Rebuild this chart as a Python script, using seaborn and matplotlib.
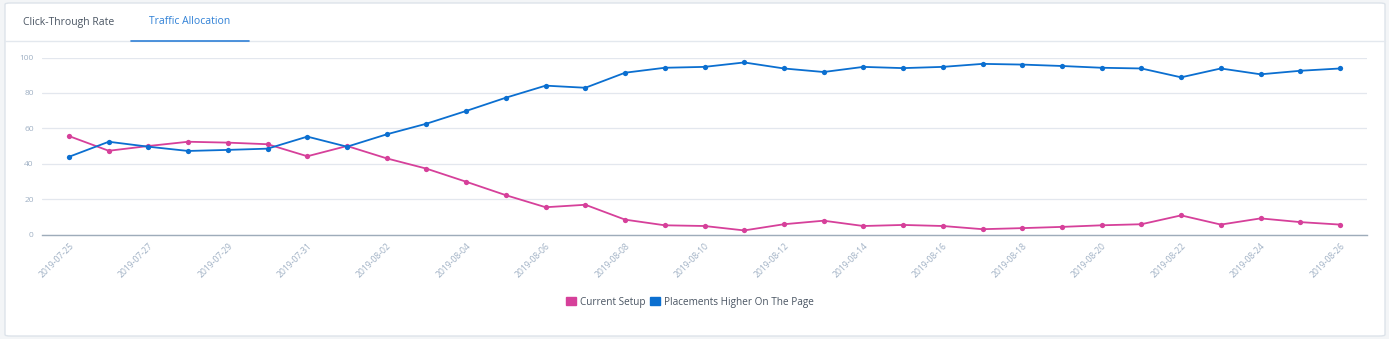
import matplotlib
matplotlib.use("Agg")
import matplotlib.pyplot as plt
import matplotlib.dates as mdates
from matplotlib.patches import FancyBboxPatch, Patch
from matplotlib.lines import Line2D
import seaborn as sns
import pandas as pd
import numpy as np

dates = pd.date_range("2019-07-25", "2019-08-26", freq="D")
current_setup = [55.6, 47.3, 50.0, 52.4, 51.9, 51.0, 44.2, 50.0, 43.0, 37.2,
                 29.8, 22.2, 15.4, 16.8, 8.4, 5.2, 4.8, 2.3, 5.8, 7.8,
                 4.8, 5.4, 4.8, 3.0, 3.6, 4.3, 5.2, 5.8, 10.8, 5.6,
                 9.1, 7.0, 5.6]
placements_higher = [43.9, 52.4, 49.6, 47.2, 47.8, 48.5, 55.3, 49.6, 56.6, 62.6,
                     69.8, 77.3, 84.1, 82.9, 91.4, 94.2, 94.7, 97.2, 93.8, 91.8,
                     94.7, 94.0, 94.7, 96.4, 96.0, 95.2, 94.2, 93.8, 88.8, 93.8,
                     90.5, 92.5, 93.8]
series_names = ["Current Setup", "Placements Higher On The Page"]
series_colors = ["#d6409a", "#0b6fd0"]
yticks = [0, 20, 40, 60, 80, 100]
tab_labels = ["Click-Through Rate", "Traffic Allocation"]

df = pd.DataFrame({
    "date": list(dates) * 2,
    "value": current_setup + placements_higher,
    "series": [series_names[0]] * len(dates) + [series_names[1]] * len(dates),
})

sns.set_theme(style="white")
plt.rcParams["font.family"] = ["Open Sans", "DejaVu Sans"]

W, H = 1389, 339
fig = plt.figure(figsize=(W / 100, H / 100), dpi=100)
fig.patch.set_facecolor("#f3f5f7")

card = FancyBboxPatch((5 / W, 3 / H), (1380 / W), (333 / H),
                      boxstyle="round,pad=0,rounding_size=0.004",
                      transform=fig.transFigure, facecolor="white",
                      edgecolor="#dde3ea", linewidth=1.0, zorder=-10)
fig.patches.append(card)

# tab bar
fig.add_artist(Line2D([5 / W, 1385 / W], [1 - 40.5 / H, 1 - 40.5 / H],
                      transform=fig.transFigure, color="#e3e8ee", lw=1.0))
fig.add_artist(Line2D([131 / W, 249 / W], [1 - 40.5 / H, 1 - 40.5 / H],
                      transform=fig.transFigure, color="#2f80d6", lw=1.2))
fig.text(23 / W, 1 - 22 / H, tab_labels[0], fontsize=7.5, color="#4a5563",
         ha="left", va="center")
fig.text(190 / W, 1 - 22 / H, tab_labels[1], fontsize=7.5, color="#2f80d6",
         ha="center", va="center")

ax = fig.add_axes([42 / W, 1 - 234.5 / H, (1367 - 42) / W, (234.5 - 57.5) / H])
ax.set_facecolor("none")
ax.set_zorder(5)

sns.lineplot(data=df, x="date", y="value", hue="series", palette=series_colors,
             marker="o", markersize=3.8, markeredgewidth=0, linewidth=1.3,
             ax=ax, legend=False)

x0 = mdates.date2num(dates[0])
ax.set_xlim(x0 - 0.68, x0 + 32 + 0.68)
ax.set_ylim(0, 100)
ax.set_yticks(yticks)
ax.yaxis.grid(True, color="#e3e7ee", linewidth=0.9)
ax.set_axisbelow(True)
for s in ["top", "right", "left"]:
    ax.spines[s].set_visible(False)
ax.spines["bottom"].set_color("#9eacba")
ax.spines["bottom"].set_linewidth(1.0)

ax.set_xticks(dates[::2])
ax.xaxis.set_major_formatter(mdates.DateFormatter("%Y-%m-%d"))
ax.tick_params(axis="x", length=0, pad=5, labelsize=6.2, labelcolor="#9fb0c4")
ax.tick_params(axis="y", length=0, pad=6, labelsize=6.0, labelcolor="#9fb0c4")
for lbl in ax.get_xticklabels():
    lbl.set_rotation(45)
    lbl.set_ha("right")
    lbl.set_rotation_mode("anchor")
ax.set_xlabel("")
ax.set_ylabel("")

handles = [Patch(facecolor=c, edgecolor=c, label=n) for n, c in zip(series_names, series_colors)]
leg = fig.legend(handles=handles, loc="center", bbox_to_anchor=(690 / W, 1 - 302 / H),
                 ncol=2, frameon=False, fontsize=7.2, handlelength=0.95,
                 handleheight=0.95, handletextpad=0.4, columnspacing=0.5)
for t in leg.get_texts():
    t.set_color("#4a5563")

fig.savefig("out.png", dpi=100, facecolor=fig.get_facecolor())
